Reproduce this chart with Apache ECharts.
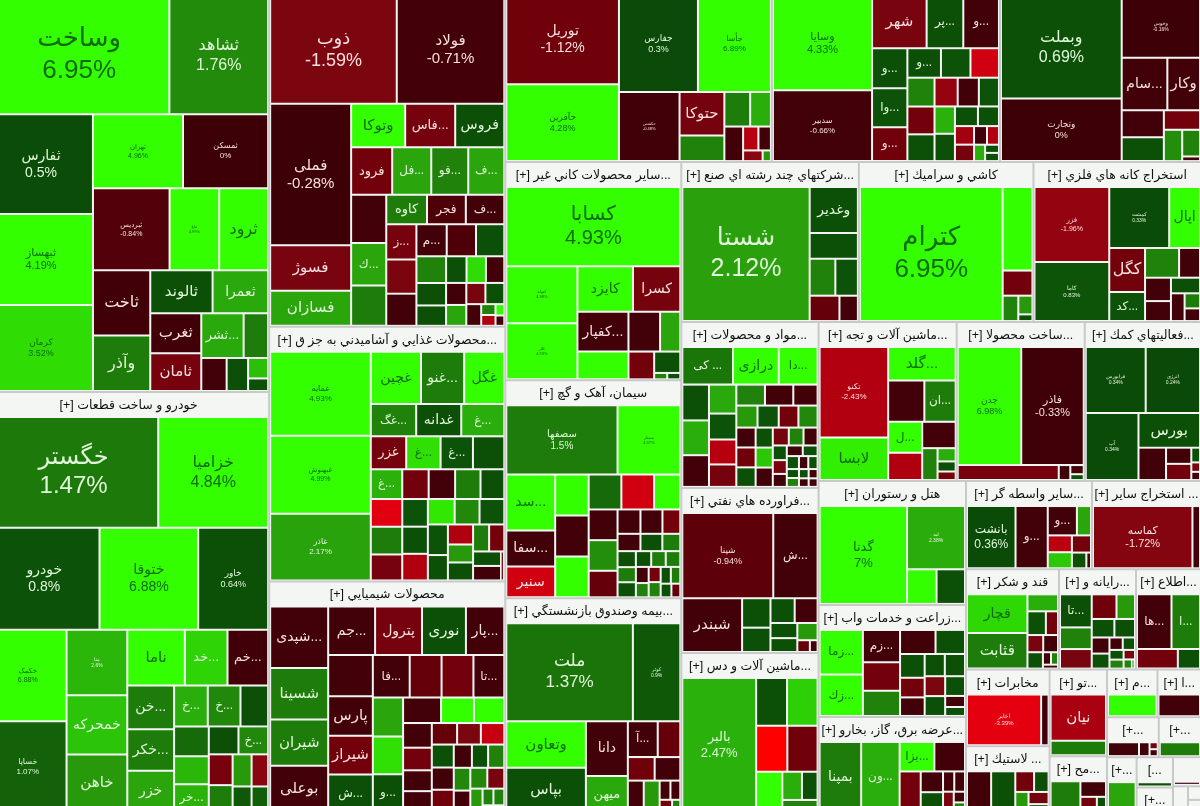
<!DOCTYPE html>
<html><head><meta charset="utf-8">
<style>html,body{margin:0;padding:0;background:#fff;overflow:hidden}#c{position:absolute;left:-11px;top:-28px;width:1211px;height:840px}</style>
<script src="https://cdn.jsdelivr.net/npm/echarts@6/dist/echarts.min.js"></script>
</head><body><div id="c"></div>
<script>
// tile rows: [symbol, size, percent change, percent printed on tile]
const housing=[["وساخت",21200,6.95,1],["ثشاهد",11500,1.76,1],["ثفارس",10200,0.5,1],["ثبهساز",9270,4.19,1],["کرمان",8755,3.52,1],["ثهران",6480,4.96,1],["ثمسکن",6120,0,1],["ثبردیس",6100,-0.84,1],["ثباغ",3900,4.99,1],["ثرود",3850,5],["ثاخت",3584,-0.6],["وآذر",3024,1.5],["ثالوند",2542,0.7],["ثعمرا",2255,2.3],["ثغرب",1900,-0.6],["ثامان",1800,-1.3],["...ثشر",1763,2.3],["",989,1.5],["",744,-0.7],["",620,0.6],["",342,2.8],["",198,0.7]];
const autos=[["خگستر",18421,1.47,1],["خزامیا",11881,4.84,1],["خودرو",11000,0.8,1],["ختوقا",9800,6.88,1],["خاور",6900,0.64,1],["خکمک",6840,6.88,1],["خساپا",6800,1.07,1],["منا",3780,2.6,1],["خمحرکه",3400,2.9],["خاهن",3300,2],["ناما",3024,5],["...خد",2214,3.3],["...خم",2106,-0.6],["...خن",1890,1.5],["...خکر",1800,1.5],["خزر",1780,2.2],["...خ",1248,2.4],["...خ",1209,1.7],["",1014,0.7],["...خر",858,2.5],["...خ",728,1.7],["",728,0.7],["",858,2.6],["",924,1.2],["",638,-1.3],["",522,2],["",406,0.9],["",550,1.5],["",450,-1.8],["",350,1]];
const metals=[["ذوب",13020,-1.59,1],["فولاد",11025,-0.71,1],["فملی",10900,-0.28,1],["فسوژ",3400,-1.4],["فسازان",2600,2.2],["وتوکا",2132,5],["...فاس",1968,-1.3],["فروس",1930,0.7],["فرود",1755,-1.2],["...فل",1665,2.2],["...فو",1575,1.6],["...ف",1530,2.2],["",1518,-0.7],["کاوه",1053,1.5],["فجر",1000,-0.8],["...ف",990,-0.7],["...ك",1320,2.2],["",1254,1.5],["",896,-1.5],["...م",840,-0.7],["",810,-0.8],["",780,0.6],["...ز",924,-1.3],["",840,-0.7],["",675,1.6],["",450,0.7],["",425,3.5],["",400,-0.7],["",560,0.7],["",360,-0.7],["",340,2.2],["",320,0.7],["",504,0.7],["",324,-1.4],["",252,-0.7],["",108,-2.4],["",108,1.6],["",63,4.5],["",56,-0.7]];
const foods=[["غمایه",8000,4.93,1],["غبهنوش",7425,4.99,1],["غاذر",6336,2.17,1],["غچین",2400,5],["...غنو",2050,1.5],["غگل",1900,5],["...غگ",1300,1.6],["غدانه",1290,0.7],["...غ",1230,2.4],["غزر",1023,-1.3],["...غ",992,3.6],["...غ",930,0.8],["",899,0.7],["...غ",810,2.5],["",750,1.5],["",750,-3.3],["",700,-1.3],["",672,-0.7],["",672,-1.2],["",644,1.5],["",588,0.7],["",600,0.8],["",600,0.7],["",575,3.7],["",530,1.7],["",576,-2.4],["",513,0.8],["",368,0.7],["",414,-2.4],["",350,1.5],["",325,-0.7],["",528,0.8],["",418,0.7],["",368,2],["",325,0.7],["",330,-1.2],["",60,-1.5]];
const chemicals=[["...شپدی",3304,-0.7],["شسینا",2744,1.5],["بوعلی",2450,-0.7],["شیران",2464,1.5],["پترول",2070,-1.3],["...جم",2070,-0.7],["نوری",1932,0.7],["",1656,-0.7],["...پار",1677,-0.7],["...فا",1400,-0.7],["",1200,-1.2],["...تا",1160,-0.7],["",1200,-1],["پارس",1591,-0.7],["شیراز",1548,-1.2],["...ش",1500,0.6],["",1036,2.2],["...و",1000,0.7],["",1000,3.6],["",840,-0.7],["",720,4.5],["",660,4.5],["",600,-0.7],["",546,-1.2],["",450,-1],["",414,0.7],["",414,-2.8],["",500,-0.7],["",500,-0.7],["",420,-1.6],["",340,-0.7],["",300,1.7],["",300,1.6],["",400,-1.1],["",300,0.7],["",280,-1.4],["",280,1.7],["",400,-0.7],["",280,-0.7],["",220,2],["",130,1.6],["",130,1.6],["",100,-1.3]];
const pharma=[["توریل",9435,-1.12,1],["حآفرین",8214,4.28,1],["جفارس",7161,0.3,1],["جأسا",6603,6.89,1],["حکشتی",3894,-0.48,1],["حتوکا",1763,-1.3],["",1000,1.6],["",768,1.5],["",608,2.4],["",544,-0.7],["",290,-2.5],["",231,-0.7],["",153,-1.8],["",54,2]];
const services=[["وسایا",8645,4.33,1],["سدبیر",6460,-0.66,1],["شهر",2544,-1.4],["...پر",1680,0.7],["...و",1632,-0.7],["...و",1221,0.7],["...وا",1188,0.8],["...و",1023,-1.1],["...و",837,0.7],["",702,-3],["",729,0.8],["",650,1.6],["",546,-2],["",468,0.8],["",494,-0.7],["",625,-1.2],["",450,0.7],["",357,0.7],["",323,0.7],["",600,0.7],["",450,2.5],["",272,-2.2],["",160,-2.4],["",176,-0.7],["",238,-1.3],["",126,2.4],["",72,0.7],["",72,0.7]];
const banks=[["وبملت",11880,0.69,1],["وتجارت",7200,0,1],["وخوس",4543,-0.16,1],["...سام",2200,-0.7],["وکار",1550,-0.7],["",1000,-0.7],["",880,0.7],["",600,-1.2],["",390,1.6],["",480,1.8],["",50,-0.7]];
const minerals=[["کسابا",13090,4.93,1],["کتوله",3740,4.98,1],["کلار",3672,4.93,1],["کایزد",2288,5],["کسرا",1936,-1.3],["...کفپار",1824,-0.7],["کپشیر",1248,5],["",1102,-0.7],["",684,2.2],["",600,-1.2],["",460,0.7],["",50,0.7],["",50,1.6]];
const cement=[["سصفها",7236,1.5,1],["سمتاز",4020,4.97,1],["...سد",2484,5],["...سفا",1564,-0.7],["سنیر",1334,-3],["",1209,-0.7],["",990,-3],["",990,1.2],["",759,-0.7],["",1209,5],["",1200,5],["",783,5],["",756,1.8],["",648,-1],["",460,-0.7],["",440,-0.7],["",350,-1.2],["",315,-0.7],["",300,0.7],["",240,1.5],["",210,0.7],["",210,1.5],["",170,1.5],["",170,1.5],["",225,0.7],["",150,-0.7],["",130,1.6],["",130,-1.2],["",110,1.5],["",180,0.7],["",130,1.6],["",120,0.7],["",100,0.7],["",80,-1]];
const insurance=[["ملت",11316,1.37,1],["کوثر",4140,0.9,1],["وتعاون",3268,5],["بپاس",3116,0.7],["دانا",1989,-0.7],["میهن",1287,2.3],["...آ",891,-0.7],["",660,-1],["",504,-1.1],["",390,2],["",390,-0.7],["",480,-0.7],["",144,-0.7],["",130,-0.7],["",100,-1.2],["",60,1.6]];
const holding=[["شستا",16500,2.12,1],["وغدیر",2025,0.7],["",1100,0.7],["",828,1.6],["",720,0.8],["",648,-1],["",384,-0.7]];
const tiles=[["کترام",18612,6.95,1],["",2296,5],["",644,-1.2],["",322,1.6],["",204,2],["",60,0.7]];
const mining=[["فزر",5329,-1.96,1],["کاما",4161,0.83,1],["کمشت",3422,0.33,1],["اپال",1711,5],["کگل",1428,-1.2],["...کد",918,0.8],["",891,1.6],["",513,-0.7],["",528,-0.7],["",374,0.7],["",176,1.5],["",432,-0.7],["",306,-0.7],["",144,-0.7]];
const drugs=[["... کی",1715,1.4],["درازی",1540,5],["...دا",1295,5],["",825,0.7],["",800,2.4],["",725,-0.7],["",675,2.3],["",600,0.8],["",575,-2.5],["",500,1.6],["",513,-1.3],["",494,-0.7],["",418,-0.7],["",380,0.8],["",380,2],["",350,-1.2],["",340,1.7],["",306,-1.1],["",306,-0.7],["",300,0.7],["",270,3],["",270,0.7],["",260,-0.7],["",220,-1.3],["",190,-0.7],["",200,1.6],["",150,0.7],["",140,-1.4],["",130,-0.7],["",120,-0.7],["",110,0.7],["",110,0.7],["",80,0.7],["",70,1.6],["",80,-0.7],["",70,0.7],["",55,0.7],["",50,-0.7],["",50,-0.7],["",45,-0.7]];
const oil=[["شپنا",7200,-0.94,1],["...ش",3440,-0.7],["شبندر",2907,-0.7],["",702,0.7],["",572,0.7],["",490,0.7],["",462,-0.7],["",320,0.7],["",290,0.7],["",270,2],["",100,-1],["",55,-0.7]];
const machinery=[["بالبر",9576,2.47,1],["",1334,0.7],["",1320,3.2],["",1300,-5],["",1260,-1.1],["",936,5],["",468,2.4],["",364,0.7],["",350,1.6]];
const equipment=[["تکنو",5695,-2.43,1],["لابسا",2613,3.8],["...گلد",2000,5],["",1300,-0.7],["...ان",1116,1.5],["...ل",899,5],["",780,-2.4],["",741,-0.7],["",391,1.6],["",176,2.4],["",128,0.7],["",105,-1.3]];
const fabricated=[["چدن",6771,6.98,1],["فاذر",6660,-0.33,1],["",1287,-1.3],["",117,-0.7],["",77,-0.7],["",44,0.7]];
const auxiliary=[["فرابورس",3600,0.34,1],["انرژی",3250,0.24,1],["آپ",3200,0.34,1],["بورس",1888,0.7],["",754,-0.7],["",322,-1.2],["",322,-0.7],["",84,0.7],["",48,-1.5],["",40,-0.7]];
const hotels=[["گدنا",7905,7,1],["لبه",3304,2.38,1],["",864,5],["",832,0.7]];
const farming=[["...زما",1722,5],["...زك",1599,5],["...زم",1050,-0.7],["",910,-1.2],["",805,1.6],["",726,-0.7],["",594,0.7],["",483,0.7],["",360,0.7],["",360,0.7],["",391,-1.2],["",324,0.7],["",310,0.7],["",368,-0.7],["",324,-1.6],["",160,-0.7],["",126,0.7]];
const utilities=[["بمپنا",2691,1.5],["...ون",2484,2.4],["...بزا",896,5],["",784,-0.7],["",741,-1.2],["",380,-0.7],["",162,-1.4],["",162,-0.7],["",361,0.7],["",171,-0.7],["",80,-0.7],["",70,1.6]];
const brokers=[["بانشت",2760,0.36,1],["...و",1800,-0.7],["...و",729,-0.7],["",324,-2.6],["",330,2.2],["",255,-1.2],["",308,3],["",168,0.7],["",42,-0.7]];
const otherMining=[["کماسه",6060,-1.72,1],["",400,-0.7]];
const sugar=[["قچار",2030,3.4],["قثابت",1856,1.5],["",406,2.4],["",336,0.7],["",210,-1.2],["",196,-1.4],["",182,0.7],["",182,-0.7],["",60,-0.7],["",50,1.6],["",30,-0.7]];
const computers=[["...تا",870,0.7],["",551,1.6],["",493,-1.4],["",484,-1.1],["",352,2],["",320,0.7],["",288,0.7],["",208,-0.7],["",110,-0.7],["",100,0.7],["",192,0.7],["",88,0.7],["",80,1.6],["",66,-1.4],["",42,1.6],["",10,2]];
const information=[["...ها",1650,-0.7],["...ا",1350,1.5],["",663,-1.2],["",340,0.7]];
const telecom=[["اخابر",3150,-3.39,1],["",270,-0.7]];
const tyres=[["",880,0.7],["",880,-0.7],["",320,-1.2],["",240,0.7],["",209,2],["",190,-1.3],["",114,0.7]];
const textile=[["نیان",2091,-2.3],["",612,1.5]];
const paper=[["",744,1.5],["",300,-0.7],["",176,-1.2],["",88,0.7]];
const small1=[["",700,5]];
const small2=[["",600,-0.7]];
const small3=[["",480,-0.7],["",143,-0.7],["",45,-0.7],["",45,-1.3]];
const small4=[["",380,2.2]];
const small5=[["",300,0.7]];
const small6=[["",300,1.5]];
const small7=[["",150,-1.2],["",120,-1.2]];
const small8=[["",100,-0.7]];

// sector rows: [title, size, tiles]
const sectors=[
["",118020,housing],["خودرو و ساخت قطعات",118010,autos],
["",83780,metals],["...محصولات غذايي و آشاميدني به جز ق",59944,foods],["محصولات شیمیایي",54516,chemicals],
["",50800,pharma],["",43450,services],["",38304,banks],
["...سایر محصولات كاني غير",38300,minerals],["سیمان، آهک و گچ",38250,cement],["...بیمه وصندوق بازنشستگي",37674,insurance],
["...شرکتهاي چند رشته اي صنع",28320,holding],["كاشي و سرامیك",27840,tiles],["استخراج كانه هاي فلزي",26720,mining],
["...مواد و محصولات",22700,drugs],["...فراورده هاي نفتي",22600,oil],["...ماشین آلات و دس",21900,machinery],
["...ماشین آلات و تجه",21890,equipment],["...ساخت محصولا",20300,fabricated],["...فعالیتهاي كمك",18428,auxiliary],
["هتل و رستوران",18200,hotels],["...زراعت و خدمات واب",16464,farming],["...عرضه برق، گاز، بخارو",14112,utilities],
["...سایر واسطه گر",11088,brokers],["... استخراج سایر",9592,otherMining],
["قند و شكر",9300,sugar],["...رایانه و",7700,computers],["...اطلاع",6500,information],
["مخابرات",6391,telecom],["... لاستیك",5561,tyres],
["...تو",4959,textile],["...مح",3249,paper],["...م",2397,small1],["...ا",2068,small2],
["[+...",2060,small3],["[+...",1680,small6],["[+...",1650,small4],["[...",1100,small5],["[+...",925,small7],["",814,small8],["",400,small8],["",176,small8],["",170,small8]
];

// label sizes, kept apart from the data
const labelFontSizes={"وساخت":26,"ثشاهد":16,"ثفارس":14,"ثبهساز":11,"کرمان":9,"ثهران":7,"ثمسکن":8,"ثبردیس":7,"ثباغ":4,"ثرود":16,"ثاخت":16,"وآذر":16,"ثالوند":15,"ثعمرا":14,"ثغرب":15,"ثامان":15,"...ثشر":13,
"خگستر":24,"خزامیا":16,"خودرو":14,"ختوقا":14,"خاور":9,"خکمک":7,"خساپا":8,"منا":5,"خمحرکه":14,"خاهن":15,"ناما":15,"...خد":13,"...خم":13,"...خن":14,"...خکر":14,"خزر":14,
"ذوب":18,"فولاد":15,"فملی":15,"فسوژ":15,"فسازان":15,"وتوکا":15,"...فاس":13,"فروس":14,"فرود":13,"کاوه":13,"فجر":12,
"غمایه":8,"غبهنوش":7,"غاذر":8,"غچین":14,"...غنو":14,"غگل":14,"غدانه":14,"غزر":13,
"...شپدی":14,"شسینا":15,"شیران":15,"بوعلی":15,"پترول":14,"...جم":14,"نوری":15,"...پار":14,"پارس":15,"شیراز":15,
"توریل":14,"حآفرین":9,"جفارس":9,"جأسا":8,"حکشتی":4,"حتوکا":15,"وسایا":11,"سدبیر":8,"شهر":15,
"وبملت":16,"وتجارت":9,"وخوس":5,"...سام":14,"وکار":15,"کسابا":20,"کتوله":4,"کلار":4,"کایزد":14,"کسرا":14,"...کفپار":14,"کپشیر":14,
"سصفها":10,"سمتاز":4,"...سد":14,"...سفا":14,"سنیر":14,"ملت":17,"کوثر":5,"وتعاون":15,"بپاس":15,"دانا":14,"میهن":13,
"شستا":25,"وغدیر":14,"کترام":26,"فزر":7,"کاما":6,"کمشت":5,"اپال":14,"کگل":16,"شپنا":9,"شبندر":15,"بالبر":13,"تکنو":8,"لابسا":15,"...گلد":15,
"چدن":9,"فاذر":11,"فرابورس":5,"انرژی":5,"آپ":5,"بورس":15,"گدنا":13,"لبه":5,"بمپنا":14,"کماسه":11,"قچار":14,"قثابت":15,"اخابر":6,"نیان":15,"درازی":14};

const changeStops=[[-5,[255,0,0]],[-3.3,[226,0,16]],[-2.4,[176,0,16]],[-1.6,[124,6,16]],[-1.1,[112,0,10]],[-0.7,[66,0,8]],[0,[60,0,6]]];
const gainStops=[[0.01,[10,70,8]],[0.8,[12,82,8]],[1.5,[30,124,10]],[2.2,[42,165,12]],[3,[43,200,8]],[3.6,[48,224,4]],[4,[51,255,0]],[7,[51,255,0]]];
function colourOf(v){
  const s=v>0?gainStops:changeStops;
  if(v<=s[0][0])return rgb(s[0][1]);
  for(let i=1;i<s.length;i++){
    if(v<=s[i][0]){
      const t=(v-s[i-1][0])/(s[i][0]-s[i-1][0]);
      return rgb(s[i-1][1].map((c,k)=>c+(s[i][1][k]-c)*t));
    }
  }
  return rgb(s[s.length-1][1]);
}
function rgb(a){return 'rgb('+a.map(Math.round).join(',')+')';}
const RLM='\u200F',LRM='\u200E';
function tileNode(row){
  const name=row[0],size=row[1],change=row[2],printed=row[3];
  const fs=labelFontSizes[name]||12;
  const text=name?(RLM+name+RLM+(printed?'\n'+change+'%':'')):'';
  const ink=change>=3.4?'#0d6a10':(change>0?'#e2f7da':'#f8e0e0');
  // sizes were read inside the gaps; each cell owns the gap around it as well
  const cell=size+4*Math.sqrt(size)+4;
  return {name:name,value:cell,labelText:text,itemStyle:{color:colourOf(change)},
    label:{fontSize:fs,lineHeight:Math.round(fs*1.22),color:ink}};
}
function sectorTitle(t){
  if(!t)return '';
  if(t[0]==='[')return LRM+t+LRM;
  return RLM+t+' [+]'+RLM;
}
function sectorNode(row){
  return {name:sectorTitle(row[0]),value:row[1],children:row[2].map(tileNode)};
}
const FONT='"Liberation Sans","DejaVu Sans","Noto Sans",sans-serif';
const chart=echarts.init(document.getElementById('c'),null,{renderer:'canvas'});
chart.setOption({
  animation:false,
  series:[{
    type:'treemap',left:0,top:0,right:0,bottom:0,
    roam:false,nodeClick:false,silent:true,breadcrumb:{show:false},
    visibleMin:0,childrenVisibleMin:0,squareRatio:1,
    label:{show:true,position:'inside',align:'center',verticalAlign:'middle',overflow:'none',fontFamily:FONT,
      formatter:p=>p.data.labelText||''},
    levels:[
      {itemStyle:{borderWidth:0,gapWidth:2,borderColor:'#c9c9c9'},upperLabel:{show:false}},
      {itemStyle:{borderWidth:1,gapWidth:2,borderColor:'#f4f6f4',color:'#f4f6f4'},
       upperLabel:{show:true,height:25,color:'#111',fontSize:12.5,fontFamily:FONT,overflow:'none',position:'inside',align:'center',verticalAlign:'middle',formatter:'{b}'}},
      {itemStyle:{borderWidth:0,gapWidth:0}}
    ],
    data:sectors.map(sectorNode)
  }]
});
</script></body></html>
